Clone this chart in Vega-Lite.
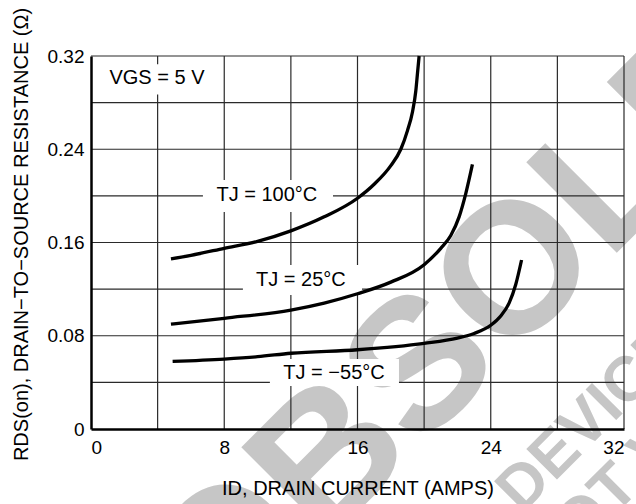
{
  "$schema": "https://vega.github.io/schema/vega-lite/v6.json",
  "width": 533,
  "height": 373,
  "autosize": "none",
  "padding": {"left": 91, "top": 56, "right": 12, "bottom": 75},
  "background": "white",
  "config": {
    "view": {"stroke": null},
    "font": "Liberation Sans",
    "axis": {
      "grid": false,
      "ticks": false,
      "domainColor": "black",
      "domainWidth": 2.5,
      "labelColor": "black",
      "labelFont": "Liberation Sans",
      "labelFontSize": 19,
      "titleFont": "Liberation Sans",
      "titleFontSize": 20,
      "titleFontWeight": "normal",
      "titleColor": "black",
      "zindex": 2
    }
  },
  "datasets": {
    "curves": [
      {"id": 4.8, "r": 0.146, "t": "100"},
      {"id": 6, "r": 0.149, "t": "100"},
      {"id": 8, "r": 0.155, "t": "100"},
      {"id": 10, "r": 0.161, "t": "100"},
      {"id": 12, "r": 0.170, "t": "100"},
      {"id": 14, "r": 0.182, "t": "100"},
      {"id": 16, "r": 0.198, "t": "100"},
      {"id": 17, "r": 0.210, "t": "100"},
      {"id": 18, "r": 0.226, "t": "100"},
      {"id": 18.6, "r": 0.240, "t": "100"},
      {"id": 19, "r": 0.256, "t": "100"},
      {"id": 19.3, "r": 0.272, "t": "100"},
      {"id": 19.5, "r": 0.290, "t": "100"},
      {"id": 19.6, "r": 0.305, "t": "100"},
      {"id": 19.7, "r": 0.320, "t": "100"},
      {"id": 4.8, "r": 0.090, "t": "25"},
      {"id": 8, "r": 0.095, "t": "25"},
      {"id": 12, "r": 0.102, "t": "25"},
      {"id": 14, "r": 0.108, "t": "25"},
      {"id": 16, "r": 0.116, "t": "25"},
      {"id": 18, "r": 0.126, "t": "25"},
      {"id": 20, "r": 0.141, "t": "25"},
      {"id": 21, "r": 0.155, "t": "25"},
      {"id": 21.6, "r": 0.166, "t": "25"},
      {"id": 22.1, "r": 0.182, "t": "25"},
      {"id": 22.5, "r": 0.202, "t": "25"},
      {"id": 22.9, "r": 0.227, "t": "25"},
      {"id": 4.9, "r": 0.058, "t": "-55"},
      {"id": 8, "r": 0.060, "t": "-55"},
      {"id": 10, "r": 0.062, "t": "-55"},
      {"id": 12, "r": 0.065, "t": "-55"},
      {"id": 16, "r": 0.068, "t": "-55"},
      {"id": 20, "r": 0.0735, "t": "-55"},
      {"id": 22, "r": 0.078, "t": "-55"},
      {"id": 23, "r": 0.082, "t": "-55"},
      {"id": 24, "r": 0.089, "t": "-55"},
      {"id": 24.6, "r": 0.097, "t": "-55"},
      {"id": 25.1, "r": 0.108, "t": "-55"},
      {"id": 25.5, "r": 0.124, "t": "-55"},
      {"id": 25.85, "r": 0.145, "t": "-55"}
    ],
    "vgrid": [{"g": 4}, {"g": 8}, {"g": 12}, {"g": 16}, {"g": 20}, {"g": 24}, {"g": 28}, {"g": 32}],
    "hgrid": [{"g": 0.04}, {"g": 0.08}, {"g": 0.12}, {"g": 0.16}, {"g": 0.20}, {"g": 0.24}, {"g": 0.28}, {"g": 0.32}],
    "labels": [
      {"text": "VGS = 5 V", "x": 3.96, "y": 0.301, "x1": 1.0, "x2": 6.8, "y1": 0.287, "y2": 0.313},
      {"text": "TJ = 100°C", "x": 10.56, "y": 0.2007, "x1": 6.72, "x2": 14.53, "y1": 0.1862, "y2": 0.2136},
      {"text": "TJ = 25°C", "x": 12.6, "y": 0.1278, "x1": 9.12, "x2": 16.27, "y1": 0.115, "y2": 0.1407},
      {"text": "TJ = −55°C", "x": 14.59, "y": 0.048, "x1": 10.74, "x2": 18.49, "y1": 0.0369, "y2": 0.060}
    ],
    "wm_big": [{"w": "OBSOLETE", "x": 29.51, "y": 0.1217}],
    "wm_small": [
      {"w": "DEVICE", "x": 25.86, "y": -0.0735},
      {"w": "NOT VALID", "x": 27.4, "y": -0.132}
    ]
  },
  "layer": [
    {
      "data": {"name": "wm_big"},
      "mark": {"type": "text", "angle": -45, "align": "center", "baseline": "alphabetic", "fontSize": 186, "fontWeight": "bold", "font": "Liberation Sans", "color": "#c6c6c6"},
      "encoding": {
        "x": {"field": "x", "type": "quantitative", "scale": {"domain": [0, 32], "nice": false}, "axis": {"zindex": 2, "values": [0, 8, 16, 24, 32], "labelPadding": 9, "title": "ID, DRAIN CURRENT (AMPS)", "titlePadding": 21}},
        "y": {"field": "y", "type": "quantitative", "scale": {"domain": [0, 0.32], "nice": false}, "axis": {"zindex": 2, "values": [0, 0.08, 0.16, 0.24, 0.32], "labelExpr": "datum.value == 0 ? '0' : format(datum.value, '.2f')", "labelPadding": 7, "title": "RDS(on), DRAIN−TO−SOURCE RESISTANCE (Ω)", "titlePadding": 16, "titleY": 178}},
        "text": {"field": "w"}
      }
    },
    {
      "data": {"name": "wm_small"},
      "mark": {"type": "text", "angle": -45, "align": "left", "baseline": "alphabetic", "fontSize": 63, "fontWeight": "bold", "font": "Liberation Sans", "color": "#c6c6c6"},
      "encoding": {
        "x": {"field": "x", "type": "quantitative"},
        "y": {"field": "y", "type": "quantitative"},
        "text": {"field": "w"}
      }
    },
    {
      "data": {"name": "vgrid"},
      "mark": {"type": "rule", "color": "#2a2a2a", "strokeWidth": 1.2},
      "encoding": {"x": {"field": "g", "type": "quantitative"}}
    },
    {
      "data": {"name": "hgrid"},
      "mark": {"type": "rule", "color": "#2a2a2a", "strokeWidth": 1.2},
      "encoding": {"y": {"field": "g", "type": "quantitative"}}
    },
    {
      "data": {"name": "labels"},
      "mark": {"type": "rect", "color": "white"},
      "encoding": {
        "x": {"field": "x1", "type": "quantitative"},
        "x2": {"field": "x2"},
        "y": {"field": "y1", "type": "quantitative"},
        "y2": {"field": "y2"}
      }
    },
    {
      "data": {"name": "labels"},
      "mark": {"type": "text", "fontSize": 20, "font": "Liberation Sans", "color": "black", "baseline": "middle", "align": "center"},
      "encoding": {
        "x": {"field": "x", "type": "quantitative"},
        "y": {"field": "y", "type": "quantitative"},
        "text": {"field": "text"}
      }
    },
    {
      "data": {"name": "curves"},
      "mark": {"type": "line", "color": "black", "strokeWidth": 3.3, "interpolate": "monotone"},
      "encoding": {
        "x": {"field": "id", "type": "quantitative"},
        "y": {"field": "r", "type": "quantitative"},
        "detail": {"field": "t"}
      }
    }
  ]
}
